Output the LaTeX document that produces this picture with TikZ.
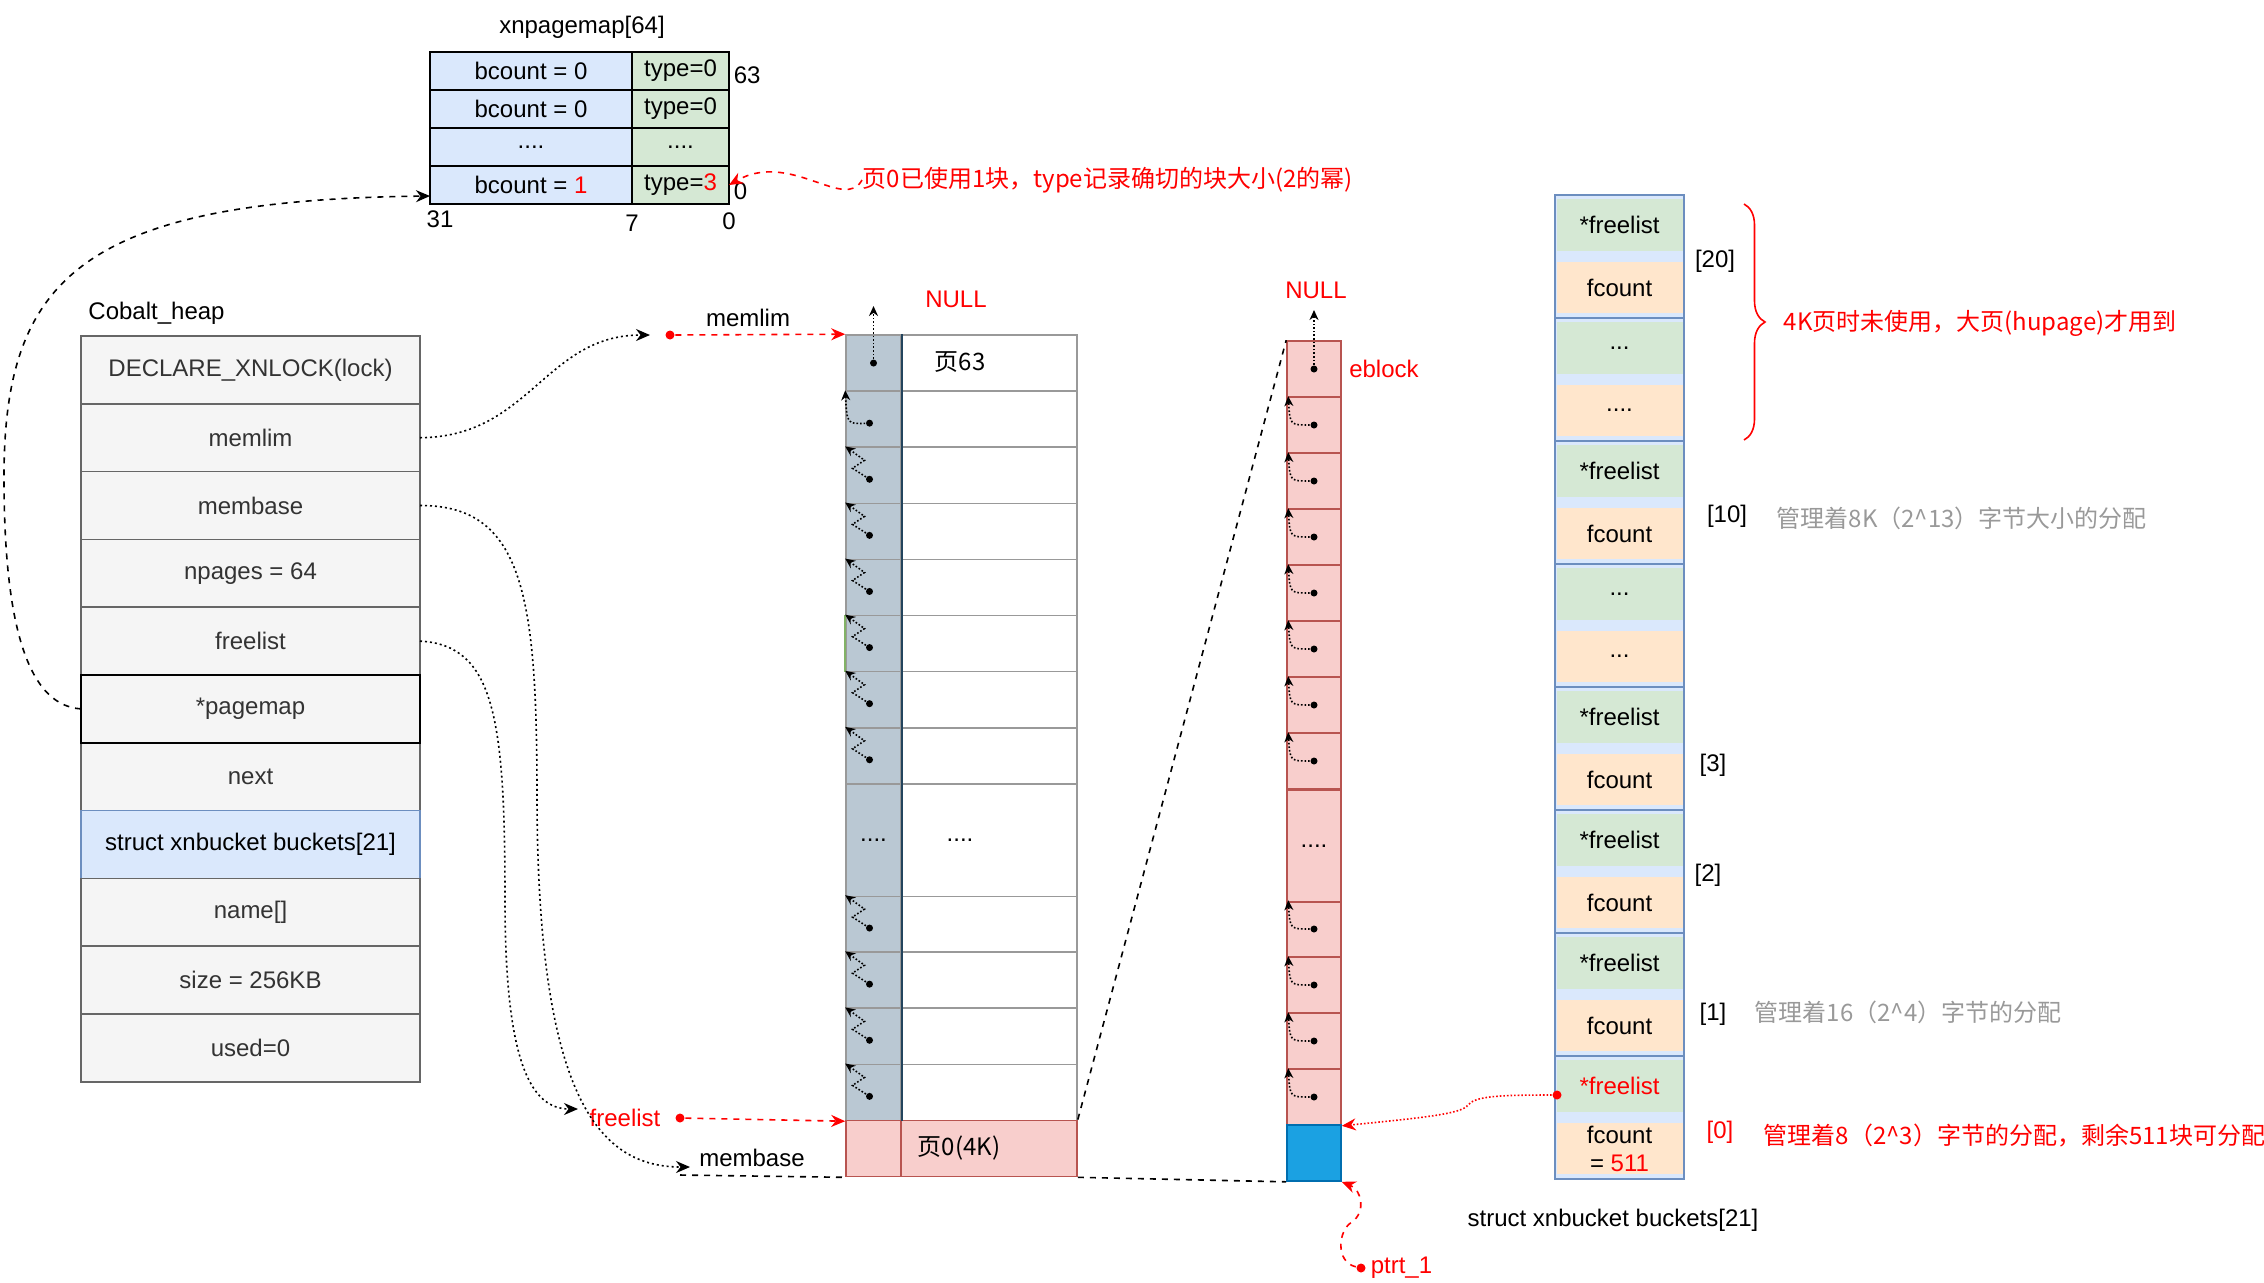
\documentclass[tikz,border=0pt]{standalone}
\usepackage{fontspec}
\setmainfont{Liberation Sans}
\newfontfamily\cjk{Noto Sans CJK SC}
\usepackage{tikz}
\usetikzlibrary{positioning, arrows.meta, decorations.pathreplacing}
\definecolor{cellgray}{HTML}{F5F5F5}
\definecolor{linegray}{HTML}{666666}
\definecolor{txtgray}{HTML}{333333}
\definecolor{mapblue}{HTML}{DAE8FC}
\definecolor{mapblueline}{HTML}{6C8EBF}
\definecolor{mapgreen}{HTML}{D5E8D4}
\definecolor{greenline}{HTML}{82B366}
\definecolor{slot}{HTML}{BAC8D3}
\definecolor{slotline}{HTML}{23445D}
\definecolor{pagegray}{HTML}{999999}
\definecolor{blkpink}{HTML}{F8CECC}
\definecolor{blkline}{HTML}{B85450}
\definecolor{usedblue}{HTML}{1BA1E2}
\definecolor{usedline}{HTML}{006EAF}
\definecolor{cntorange}{HTML}{FFE6CC}
\definecolor{notegray}{HTML}{999999}
\newcommand{\bdotsthree}{...}
\newcommand{\bdotsfour}{....}

\begin{document}
\begin{tikzpicture}[x=0.5pt, y=-0.5pt, line width=0.8pt, node distance=0pt,
    >={Stealth[length=7pt, width=6pt]},
    font=\fontsize{12}{14}\selectfont,
    cn/.style={font=\fontsize{12}{14}\selectfont\cjk},
    field/.style={draw=linegray, fill=cellgray, text=txtgray, minimum width=169.5pt, minimum height=33.9pt, inner sep=0pt, outer sep=0pt},
    mapcell/.style={draw, fill=mapblue, minimum width=101pt, minimum height=19pt, inner sep=0pt, outer sep=0pt},
    typecell/.style={draw, fill=mapgreen, minimum width=48.5pt, minimum height=19pt, inner sep=0pt, outer sep=0pt},
    slotcell/.style={draw=pagegray, fill=slot, minimum width=27.5pt, minimum height=28.05pt, inner sep=0pt},
    pagecell/.style={draw=pagegray, fill=white, minimum width=88pt, minimum height=28.05pt, inner sep=0pt},
    blk/.style={draw=blkline, fill=blkpink, minimum width=27pt, minimum height=28pt, inner sep=0pt},
    bucket/.style={draw=mapblueline, fill=mapblue, minimum width=64.5pt, minimum height=61.5pt, inner sep=0pt},
    flcell/.style={fill=mapgreen, minimum width=63pt, minimum height=26pt, inner sep=0pt},
    fccell/.style={fill=cntorange, minimum width=63pt, minimum height=25.5pt, inner sep=0pt},
    ptrdot/.style={circle, fill, inner sep=0pt, minimum size=3.5pt},
    reddot/.style={circle, fill=red, inner sep=0pt, minimum size=4.5pt},
    ptr/.style={densely dotted, -{Stealth[length=5pt, width=4.5pt]}},
    link/.style={dash pattern=on 1pt off 1.5pt, ->},
  ]
  \useasboundingbox (0,0) rectangle (2264,1282);

  % Cobalt_heap
  \node[field] (lock) at (250.5,369.9) {DECLARE\_XNLOCK(lock)};
  \node[field, below=of lock] (memlim) {memlim};
  \node[field, below=of memlim] (membase) {membase};
  \node[field, below=of membase] (npages) {npages = 64};
  \node[field, below=of npages] (hfree) {freelist};
  \node[field, below=of hfree] (pmap) {*pagemap};
  \node[field, below=of pmap] (next) {next};
  \node[field, fill=mapblue, draw=mapblueline, text=black, below=of next] (bkts) {struct xnbucket buckets[21]};
  \node[field, below=of bkts] (name) {name[]};
  \node[field, below=of name] (size) {size = 256KB};
  \node[field, below=of size] (used) {used=0};
  \draw[black] (pmap.north west) rectangle (pmap.south east);
  \node[anchor=south west] (heapname) at ([yshift=2pt]lock.north west) {Cobalt\_heap};

  % xnpagemap
  \node[mapcell] (map0) at (531,71) {bcount = 0};
  \node[typecell, right=of map0] (type0) {type=0};
  \node[mapcell, below=of map0] (map1) {bcount = 0};
  \node[typecell, right=of map1] (type1) {type=0};
  \node[mapcell, below=of map1] (map2) {....};
  \node[typecell, right=of map2] (type2) {....};
  \node[mapcell, below=of map2] (map3) {bcount = \textcolor{red}{1}};
  \node[typecell, right=of map3] (type3) {type=\textcolor{red}{3}};
  \node (mapname) at (582,27) {xnpagemap[64]};
  \node[anchor=west, inner sep=2pt] (hi) at ([yshift=-2pt]type0.east) {63};
  \node[anchor=west, inner sep=2pt] (lo) at ([yshift=-3pt]type3.east) {0};
  \node[anchor=north, inner sep=1pt] (bit31) at ([xshift=5pt, yshift=-2pt]map3.south west) {31};
  \node[anchor=north, inner sep=1pt] (bit7) at ([yshift=-4pt]type3.south west) {7};
  \node[anchor=north, inner sep=1pt] (bit0) at ([yshift=-3pt]type3.south east) {0};
  \node[cn, anchor=west, text=red, inner sep=0pt] (note0) at (862,180) {页0已使用1块，type记录确切的块大小(2的幂)};
  \draw[red, dashed, ->] (note0.west) .. controls (845,212) and (790,150) .. (type3.east);
  \draw[dashed, ->] (pmap.west) .. controls (20,705) and (4,600) .. (4,477) .. controls (4,280) and (80,200) .. ([yshift=4pt]map3.south west);

  % pages
  \foreach \k in {0,1,2,3,4,5,6,7,10,11,12,13} {
    \node[slotcell] (s\k) at (873.5,{335+56.1*(\k+0.5)}) {};
    \node[pagecell] (p\k) at (989,{335+56.1*(\k+0.5)}) {};
  }
  \node[slotcell, minimum height=56.1pt] (s8) at (873.5,840.2) {....};
  \node[pagecell, minimum height=56.1pt] (p8) at (989,840.2) {};
  \node[slotcell, fill=blkpink, draw=blkline] (s14) at (873.5,1148.45) {};
  \node[pagecell, fill=blkpink, draw=blkline] (p14) at (989,1148.45) {};
  \draw[greenline] (s5.north west) -- (s5.south west) (s5.north east) -- (s5.south east);
  \draw[slotline] (s0.north east) -- (s13.south east);
  \node[cn] (pg63) at (960,362) {页63};
  \node (pgdots) at (960,840) {....};
  \node[cn] (pg0) at (959,1148) {页0(4K)};

  \node[ptrdot] (sd0) at (s0) {};
  \coordinate (stop) at (873.5,306);
  \draw[ptr] (sd0) -- (stop);
  \node[text=red] (snull) at (956,299) {NULL};
  \foreach \k in {1,2,3,4,5,6,7,10,11,12,13}
    \node[ptrdot] (sd\k) at ([xshift=-2pt, yshift=-2pt]s\k.center) {};
  \draw[ptr] (sd1) .. controls (847,424) .. (s1.north west);
  \foreach \k in {2,3,4,5,6,7,10,11,12,13}
    \draw[ptr] (sd\k) -- ++(-17,-11) -- ++(12,-8) -- (s\k.north west);

  % memlim / freelist / membase
  \node (mllbl) at (748,318) {memlim};
  \node[reddot] (mldot) at (670,335) {};
  \coordinate (mltip) at (650,335);
  \draw[red, dashed, ->] (mldot) -- (s0.north west);
  \draw[link] (memlim.east) .. controls (530,437) and (545,335) .. (mltip);

  \node[text=red] (fllbl) at (625,1118) {freelist};
  \node[reddot] (fldot) at (680,1118) {};
  \coordinate (fltip) at (578,1109);
  \draw[red, dashed, ->] (fldot) -- (s13.south west);
  \draw[link] (hfree.east) .. controls (495,645) and (505,720) .. (505,900) .. controls (505,1060) and (530,1109) .. (fltip);

  \node (mblbl) at (752,1158) {membase};
  \coordinate (mbtip) at (690,1167);
  \coordinate (mbbase) at (680,1175);
  \draw[link] (membase.east) .. controls (525,505) and (537,600) .. (537,800) .. controls (538,1100) and (600,1167) .. (mbtip);
  \draw[dashed] (mbbase) -- (s14.south west);

  % eblock
  \foreach \k in {0,1,2,3,4,5,6,7,10,11,12,13}
    \node[blk] (e\k) at (1314,{341+56*(\k+0.5)}) {};
  \node[blk, minimum height=56pt] (e8) at (1314,846) {....};
  \node[blk, fill=usedblue, draw=usedline] (e14) at (1314,1153) {};
  \draw[dashed] (p14.north east) -- (e0.north west);
  \draw[dashed] (p14.south east) -- (e14.south west);
  \node[anchor=west, text=red] (eblk) at (e0.east) {eblock};
  \foreach \k in {0,1,2,3,4,5,6,7,10,11,12,13}
    \node[ptrdot] (ed\k) at (e\k) {};
  \coordinate (etop) at (1314,310);
  \draw[ptr] (ed0) -- (etop);
  \node[text=red] (enull) at (1316,290) {NULL};
  \foreach \k in {1,2,3,4,5,6,7,10,11,12,13}
    \draw[ptr] (ed\k) .. controls ([xshift=-12pt]e\k.center) .. ([xshift=1pt]e\k.north west);

  % buckets
  \foreach \g/\fl/\fc in {0/*freelist/fcount, 1/\bdotsthree/\bdotsfour, 2/*freelist/fcount, 3/\bdotsthree/\bdotsthree, 4/*freelist/fcount, 5/*freelist/fcount, 6/*freelist/fcount} {
    \node[bucket] (g\g) at (1619.5,{256.5+123*\g}) {};
    \node[flcell] (f\g) at (1619.5,{225+123*\g}) {\fl};
    \node[fccell] (c\g) at (1619.5,{287.5+123*\g}) {\fc};
  }
  \node[bucket] (g7) at (1619.5,1117.5) {};
  \node[flcell, text=red] (f7) at (1619.5,1086) {*freelist};
  \node[fccell, align=center] (c7) at (1619.5,1148.5) {fcount\\= \textcolor{red}{511}};
  \node (i20) at (1715,261) {[20]};
  \node (i10) at (1727,516) {[10]};
  \node (i3) at (1713,765) {[3]};
  \node (i2) at (1708,875) {[2]};
  \node (i1) at (1713,1014) {[1]};
  \node[text=red] (i0) at (1720,1132) {[0]};
  \draw[red, decorate, decoration={brace, amplitude=10.5pt}] (1744,204) -- (1744,440);
  \node[cn, anchor=west, text=red, inner sep=0pt] (n20) at (1783,323) {4K页时未使用，大页(hupage)才用到};
  \node[cn, anchor=west, text=notegray, inner sep=0pt] (n10) at (1776,518) {管理着8K（2\textasciicircum 13）字节大小的分配};
  \node[cn, anchor=west, text=notegray, inner sep=0pt] (n1) at (1754,1012) {管理着16（2\textasciicircum 4）字节的分配};
  \node[cn, anchor=west, text=red, inner sep=0pt] (n0) at (1763,1135) {管理着8（2\textasciicircum 3）字节的分配，剩余511块可分配};
  \node (bktname) at (1613,1220) {struct xnbucket buckets[21]};

  \node[reddot] (fdot) at (1557,1095) {};
  \draw[red, densely dotted, ->] (fdot) .. controls (1500,1095) and (1475,1096) .. (1468,1105) .. controls (1462,1114) and (1420,1118) .. (e13.south east);
  \node[reddot] (pdot) at (1361,1268) {};
  \node[anchor=west, text=red, inner sep=2pt] (ptrlbl) at (1366,1268) {ptrt\_1};
  \draw[red, dashed, ->] (pdot) .. controls (1335,1262) and (1338,1230) .. (1352,1222) .. controls (1366,1212) and (1362,1190) .. (e14.south east);
\end{tikzpicture}
\end{document}
